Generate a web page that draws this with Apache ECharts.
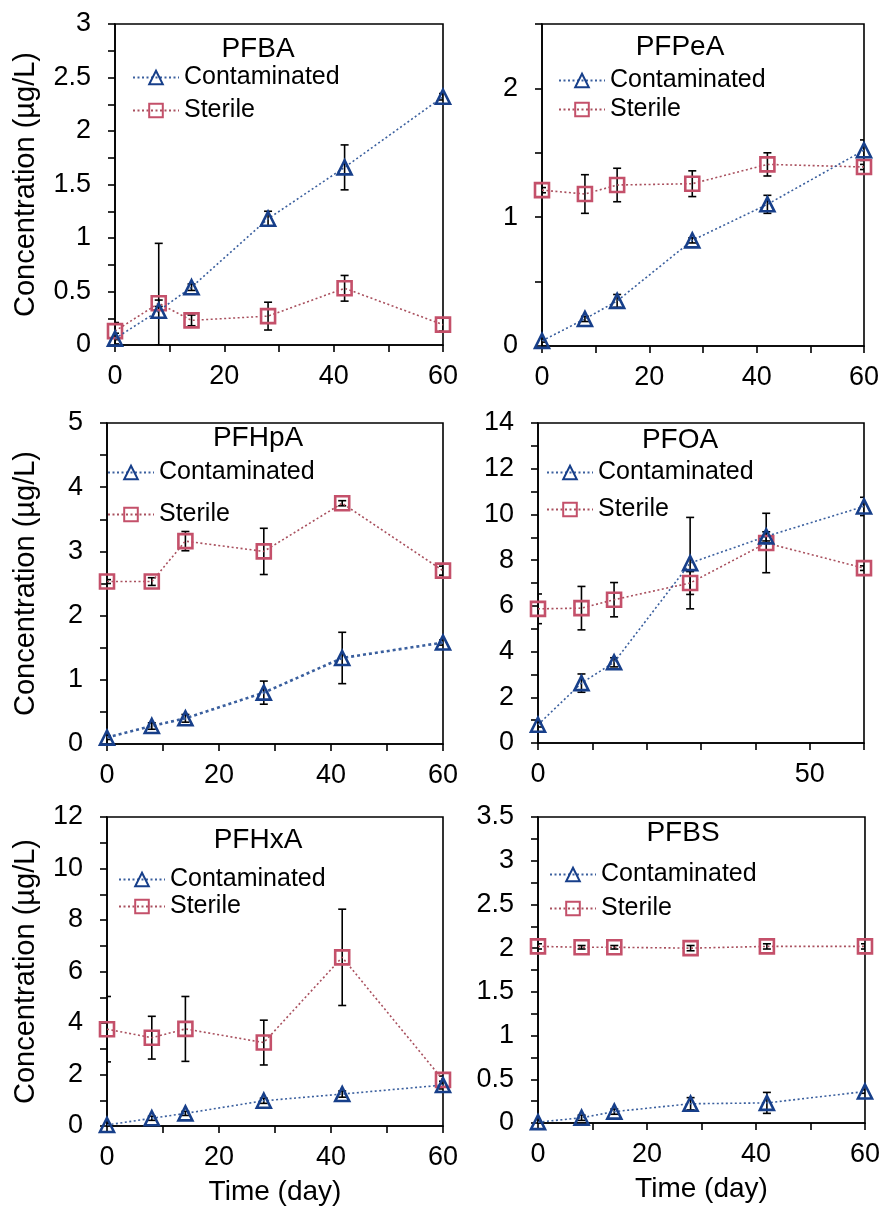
<!DOCTYPE html>
<html>
<head>
<meta charset="utf-8">
<script src="https://cdn.jsdelivr.net/npm/echarts@6/dist/echarts.min.js"></script>
<style>
  html, body { margin: 0; padding: 0; background: #fff; }
  #chart { width: 883px; height: 1213px; }
</style>
</head>
<body>
<div id="chart"></div>
<script>
// sampling days
const days = [0, 8, 14, 28, 42, 60];

// PFBA
const pfbaCont = [0.06, 0.32, 0.54, 1.18, 1.66, 2.32];
const pfbaContErr = [0.05, 0.63, 0.03, 0.07, 0.21, 0.03];
const pfbaSter = [0.13, 0.39, 0.23, 0.27, 0.53, 0.19];
const pfbaSterErr = [0.08, 0.03, 0.05, 0.13, 0.12, 0.06];

// PFPeA
const pfpeaCont = [0.04, 0.21, 0.35, 0.82, 1.10, 1.52];
const pfpeaContErr = [0.01, 0.02, 0.05, 0.02, 0.07, 0.08];
const pfpeaSter = [1.21, 1.18, 1.25, 1.26, 1.41, 1.39];
const pfpeaSterErr = [0.02, 0.15, 0.13, 0.10, 0.09, 0.02];

// PFHpA
const pfhpaCont = [0.10, 0.28, 0.40, 0.80, 1.34, 1.58];
const pfhpaContErr = [0.03, 0.05, 0.06, 0.18, 0.40, 0.04];
const pfhpaSter = [2.53, 2.53, 3.16, 3.00, 3.75, 2.70];
const pfhpaSterErr = [0.03, 0.06, 0.15, 0.36, 0.04, 0.07];

// PFOA
const pfoaCont = [0.80, 2.62, 3.53, 7.87, 9.04, 10.35];
const pfoaContErr = [0.10, 0.40, 0.20, 2.00, 0.20, 0.40];
const pfoaSter = [5.87, 5.90, 6.27, 7.00, 8.75, 7.65];
const pfoaSterErr = [0.65, 0.95, 0.75, 0.50, 1.30, 0.10];

// PFHxA
const pfhxaCont = [0.04, 0.30, 0.49, 0.98, 1.24, 1.59];
const pfhxaContErr = [0.05, 0.08, 0.08, 0.10, 0.12, 0.15];
const pfhxaSter = [3.76, 3.43, 3.77, 3.24, 6.55, 1.79];
const pfhxaSterErr = [1.27, 0.83, 1.26, 0.87, 1.87, 0.15];

// PFBS
const pfbsCont = [0.01, 0.06, 0.13, 0.22, 0.23, 0.36];
const pfbsContErr = [0.01, 0.03, 0.03, 0.07, 0.12, 0.02];
const pfbsSter = [2.02, 2.01, 2.01, 2.00, 2.02, 2.02];
const pfbsSterErr = [0.03, 0.02, 0.02, 0.03, 0.03, 0.03];

const FONT = "Liberation Sans, Arial, sans-serif";
const BLUE = "#173f8a";
const BLUE_LINE = "#3a5f9e";
const PINK = "#c4506a";
const PINK_LINE = "#a9505e";

const panels = [
  { title: "PFBA", cont: pfbaCont, contErr: pfbaContErr, ster: pfbaSter, sterErr: pfbaSterErr,
    grid: { left: 115, top: 24, width: 328, height: 321 }, yMax: 3, yStep: 0.5, yLabelEvery: 0.5, minor: true,
    titlePos: [258, 49], legend: { left: 132, top: 65, gap: 8 }, yName: true, nameGap: 75 },
  { title: "PFPeA", cont: pfpeaCont, contErr: pfpeaContErr, ster: pfpeaSter, sterErr: pfpeaSterErr,
    grid: { left: 542, top: 24, width: 322, height: 322 }, yMax: 2.5, yStep: 0.5, yLabelEvery: 1, minor: false,
    titlePos: [680, 47], legend: { left: 558, top: 68, gap: 4 } },
  { title: "PFHpA", cont: pfhpaCont, contErr: pfhpaContErr, ster: pfhpaSter, sterErr: pfhpaSterErr,
    grid: { left: 107, top: 423, width: 336, height: 321 }, yMax: 5, yStep: 1, yLabelEvery: 1, minor: true,
    titlePos: [258, 438], legend: { left: 107, top: 460, gap: 17 }, yName: true, nameGap: 67, thick: true },
  { title: "PFOA", cont: pfoaCont, contErr: pfoaContErr, ster: pfoaSter, sterErr: pfoaSterErr,
    grid: { left: 538, top: 423, width: 326, height: 320 }, yMax: 14, yStep: 2, yLabelEvery: 2, minor: true,
    titlePos: [680, 440], legend: { left: 546, top: 460, gap: 12 }, xLabels: [0, 50] },
  { title: "PFHxA", cont: pfhxaCont, contErr: pfhxaContErr, ster: pfhxaSter, sterErr: pfhxaSterErr,
    grid: { left: 107, top: 817, width: 336, height: 309 }, yMax: 12, yStep: 2, yLabelEvery: 2, minor: true,
    titlePos: [258, 840], legend: { left: 118, top: 867, gap: 2 }, yName: true, nameGap: 67, xName: true },
  { title: "PFBS", cont: pfbsCont, contErr: pfbsContErr, ster: pfbsSter, sterErr: pfbsSterErr,
    grid: { left: 538, top: 817, width: 328, height: 306 }, yMax: 3.5, yStep: 0.5, yLabelEvery: 0.5, minor: true,
    titlePos: [683, 833], legend: { left: 549, top: 862, gap: 9 }, xName: true }
];

function renderErr(params, api) {
  const x = api.value(0);
  const lo = api.value(1);
  const hi = api.value(2);
  const top = api.coord([x, hi]);
  const bot = api.coord([x, lo]);
  const w = 4;
  const st = { stroke: "#000", lineWidth: 1.6 };
  return {
    type: "group",
    children: [
      { type: "line", shape: { x1: top[0], y1: top[1], x2: bot[0], y2: bot[1] }, style: st },
      { type: "line", shape: { x1: top[0] - w, y1: top[1], x2: top[0] + w, y2: top[1] }, style: st },
      { type: "line", shape: { x1: bot[0] - w, y1: bot[1], x2: bot[0] + w, y2: bot[1] }, style: st }
    ]
  };
}

function errData(mean, err) {
  return days.map((d, i) => [d, Math.max(0, mean[i] - err[i]), mean[i] + err[i]]);
}

const grid = [], xAxis = [], yAxis = [], series = [], legend = [], graphic = [];
const axisLineStyle = { color: "#000", width: 1.6 };

panels.forEach((p, i) => {
  grid.push(Object.assign({ show: true, borderColor: "#000", borderWidth: 1.6, backgroundColor: "transparent" }, p.grid));

  xAxis.push({
    gridIndex: i, type: "value", min: 0, max: 60, interval: 10,
    axisLine: { lineStyle: axisLineStyle },
    axisTick: { length: 7, lineStyle: axisLineStyle },
    splitLine: { show: false },
    axisLabel: {
      margin: 18, color: "#000", fontSize: 27, fontFamily: FONT,
      formatter: (v) => (p.xLabels ? (p.xLabels.includes(v) ? v : "") : (v % 20 === 0 ? v : ""))
    },
    name: p.xName ? "Time (day)" : "",
    nameLocation: "middle", nameGap: 52,
    nameTextStyle: { color: "#000", fontSize: 28, fontFamily: FONT }
  });

  yAxis.push({
    gridIndex: i, type: "value", min: 0, max: p.yMax, interval: p.yStep,
    axisLine: { lineStyle: axisLineStyle },
    axisTick: { length: 7, lineStyle: axisLineStyle },
    minorTick: { show: p.minor, splitNumber: 2, length: 7, lineStyle: axisLineStyle },
    splitLine: { show: false },
    minorSplitLine: { show: false },
    axisLabel: {
      margin: 24, color: "#000", fontSize: 27, fontFamily: FONT,
      formatter: (v) => (Math.abs(v / p.yLabelEvery - Math.round(v / p.yLabelEvery)) < 1e-6 ? String(+v.toFixed(2)) : "")
    },
    name: p.yName ? "Concentration (µg/L)" : "",
    nameLocation: "middle", nameGap: p.nameGap || 60, nameRotate: 90,
    nameTextStyle: { color: "#000", fontSize: 29, fontFamily: FONT }
  });

  series.push({
    name: "errC" + i, type: "custom", xAxisIndex: i, yAxisIndex: i,
    renderItem: renderErr, data: errData(p.cont, p.contErr), encode: { x: 0, y: [1, 2] }, z: 1, clip: true
  });
  series.push({
    name: "errS" + i, type: "custom", xAxisIndex: i, yAxisIndex: i,
    renderItem: renderErr, data: errData(p.ster, p.sterErr), encode: { x: 0, y: [1, 2] }, z: 1, clip: true
  });
  series.push({
    name: "Contaminated", type: "line", xAxisIndex: i, yAxisIndex: i,
    data: days.map((d, k) => [d, p.cont[k]]),
    symbol: "triangle", symbolSize: 14,
    itemStyle: { color: "transparent", borderColor: BLUE, borderWidth: 2.6 },
    lineStyle: p.thick ? { color: BLUE_LINE, width: 2.6, type: [3, 3] } : { color: BLUE_LINE, width: 1.6, type: [2, 2.5] },
    z: 3
  });
  series.push({
    name: "Sterile", type: "line", xAxisIndex: i, yAxisIndex: i,
    data: days.map((d, k) => [d, p.ster[k]]),
    symbol: "rect", symbolSize: 14,
    itemStyle: { color: "transparent", borderColor: PINK, borderWidth: 2.6 },
    lineStyle: { color: PINK_LINE, width: 1.6, type: [2, 2.5] },
    z: 2
  });

  legend.push({
    data: ["Contaminated", "Sterile"], orient: "vertical",
    left: p.legend.left, top: p.legend.top, itemGap: p.legend.gap, padding: 0,
    itemWidth: 46, itemHeight: 17, selectedMode: false,
    textStyle: { color: "#000", fontSize: 25, fontFamily: FONT }
  });

  graphic.push({
    type: "text", x: p.titlePos[0], y: p.titlePos[1],
    style: { text: p.title, fill: "#000", font: "28px " + FONT, align: "center", verticalAlign: "middle" }
  });
});

const myChart = echarts.init(document.getElementById("chart"));
myChart.setOption({
  animation: false,
  backgroundColor: "#fff",
  grid, xAxis, yAxis, series, legend, graphic
});
</script>
</body>
</html>
